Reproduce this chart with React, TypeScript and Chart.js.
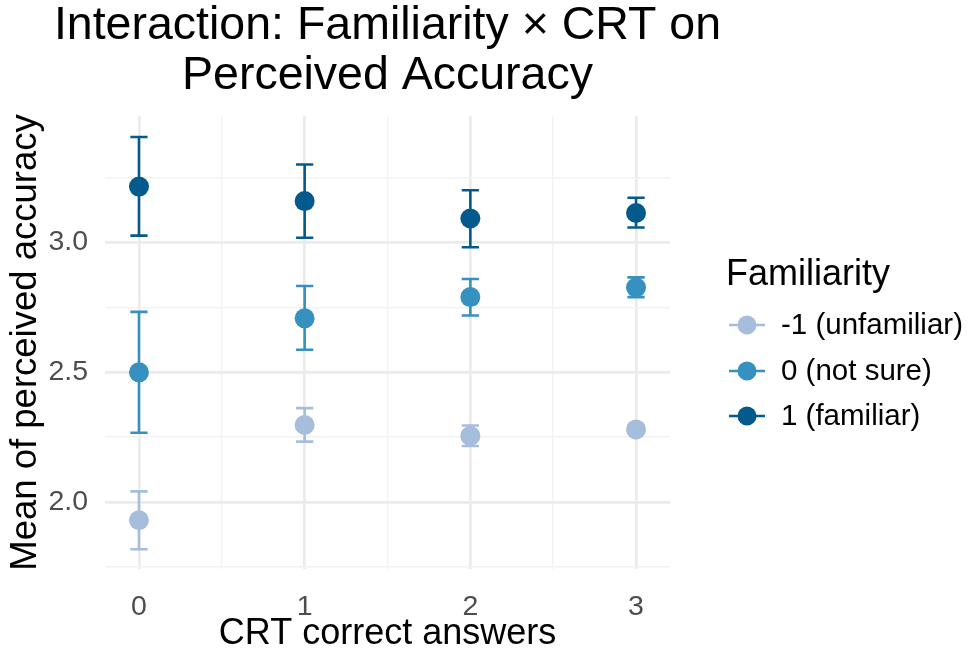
import { useEffect, useRef } from "react";
import { Chart, registerables } from "chart.js";

Chart.register(...registerables);

// ---- data ----
const crtAnswers = [0, 1, 2, 3];
const xTickValues = [0, 1, 2, 3];
const yTickValues = [2.0, 2.5, 3.0];

const seriesNames = ["-1 (unfamiliar)", "0 (not sure)", "1 (familiar)"];
const seriesColors = ["#a6bddb", "#3690c0", "#045a8d"];

const unfamiliarMean = [1.93, 2.297, 2.255, 2.28];
const unfamiliarLow = [1.818, 2.233, 2.216, 2.266];
const unfamiliarHigh = [2.041, 2.362, 2.295, 2.294];

const notSureMean = [2.5, 2.708, 2.79, 2.827];
const notSureLow = [2.267, 2.587, 2.719, 2.79];
const notSureHigh = [2.733, 2.833, 2.86, 2.866];

const familiarMean = [3.216, 3.16, 3.093, 3.114];
const familiarLow = [3.027, 3.019, 2.982, 3.058];
const familiarHigh = [3.407, 3.301, 3.202, 3.173];

const titleLines = ["Interaction: Familiarity \u00d7 CRT on", "Perceived Accuracy"];
const xTitle = "CRT correct answers";
const yTitle = "Mean of perceived accuracy";
const legendTitle = "Familiarity";

const means = [unfamiliarMean, notSureMean, familiarMean];
const lows = [unfamiliarLow, notSureLow, familiarLow];
const highs = [unfamiliarHigh, notSureHigh, familiarHigh];

const FONT = '"Liberation Sans", Arial, Helvetica, sans-serif';
const CAP_HALF = 0.052;

const isMajor = (v: number, step: number) =>
  Math.abs(v / step - Math.round(v / step)) < 1e-6;

const errorBarPlugin = {
  id: "errorBars",
  beforeDatasetsDraw(chart: any) {
    const { ctx } = chart;
    const xs = chart.scales.x;
    const ys = chart.scales.y;
    ctx.save();
    ctx.lineWidth = 2.6;
    ctx.lineCap = "butt";
    means.forEach((_m, i) => {
      ctx.strokeStyle = seriesColors[i];
      crtAnswers.forEach((c, j) => {
        const px = xs.getPixelForValue(c);
        const pl = xs.getPixelForValue(c - CAP_HALF);
        const pr = xs.getPixelForValue(c + CAP_HALF);
        const yl = ys.getPixelForValue(lows[i][j]);
        const yh = ys.getPixelForValue(highs[i][j]);
        ctx.beginPath();
        ctx.moveTo(px, yl);
        ctx.lineTo(px, yh);
        ctx.moveTo(pl, yl);
        ctx.lineTo(pr, yl);
        ctx.moveTo(pl, yh);
        ctx.lineTo(pr, yh);
        ctx.stroke();
      });
    });
    ctx.restore();
  },
};

const decorPlugin = {
  id: "decor",
  afterDraw(chart: any) {
    const { ctx, chartArea } = chart;
    ctx.save();
    // title
    const cx = (chartArea.left + chartArea.right) / 2;
    ctx.fillStyle = "#000000";
    ctx.font = `46.5px ${FONT}`;
    ctx.textAlign = "center";
    ctx.textBaseline = "alphabetic";
    ctx.fillText(titleLines[0], cx, 39);
    ctx.fillText(titleLines[1], cx, 89);

    // legend
    ctx.textAlign = "left";
    ctx.font = `36px ${FONT}`;
    ctx.fillText(legendTitle, 726, 285);
    const rowY = [325, 371, 416];
    ctx.font = `29.5px ${FONT}`;
    ctx.textBaseline = "middle";
    seriesNames.forEach((name, i) => {
      const y = rowY[i];
      ctx.strokeStyle = seriesColors[i];
      ctx.lineWidth = 2.6;
      ctx.beginPath();
      ctx.moveTo(729, y);
      ctx.lineTo(765, y);
      ctx.stroke();
      ctx.fillStyle = seriesColors[i];
      ctx.beginPath();
      ctx.arc(747, y, 9.5, 0, Math.PI * 2);
      ctx.fill();
      ctx.fillStyle = "#000000";
      ctx.fillText(name, 781, y + 1);
    });
    ctx.restore();
  },
};

export default function App() {
  const ref = useRef<HTMLCanvasElement | null>(null);

  useEffect(() => {
    document.body.style.margin = "0";
    const canvas = ref.current;
    if (!canvas) return;
    Chart.defaults.font.family = FONT;

    const datasets = means.map((m, i) => ({
      label: seriesNames[i],
      data: crtAnswers.map((c, j) => ({ x: c, y: m[j] })),
      backgroundColor: seriesColors[i],
      borderColor: seriesColors[i],
      borderWidth: 0,
      pointRadius: 10,
      pointHoverRadius: 10,
      showLine: false,
    }));

    const chart = new Chart(canvas, {
      type: "scatter",
      data: { datasets },
      plugins: [errorBarPlugin, decorPlugin],
      options: {
        animation: false,
        responsive: false,
        devicePixelRatio: 1,
        layout: { padding: { top: 116, right: 298, left: 0, bottom: 0 } },
        plugins: {
          legend: { display: false },
          title: { display: false },
          tooltip: { enabled: false },
        },
        scales: {
          x: {
            type: "linear",
            min: -0.205,
            max: 3.205,
            afterFit: (s: any) => {
              s.height = 85;
            },
            border: { display: false },
            grid: {
              drawTicks: false,
              color: (c: any) =>
                c.tick && isMajor(c.tick.value, 1) ? "#ebebeb" : "#f2f2f2",
              lineWidth: (c: any) =>
                c.tick && isMajor(c.tick.value, 1) ? 2.7 : 1.4,
            },
            ticks: {
              stepSize: 0.5,
              includeBounds: false,
              autoSkip: false,
              maxRotation: 0,
              padding: 21,
              color: "#4d4d4d",
              font: { size: 28.5 },
              callback: (v: any) => {
                const n = Number(v);
                return xTickValues.some((t) => Math.abs(t - n) < 1e-6)
                  ? String(Math.round(n))
                  : "";
              },
            },
            title: {
              display: true,
              text: xTitle,
              color: "#000000",
              font: { size: 36, lineHeight: 1 },
              padding: { top: 0, bottom: 2 },
            },
          },
          y: {
            type: "linear",
            min: 1.742,
            max: 3.488,
            afterFit: (s: any) => {
              s.width = 105;
            },
            border: { display: false },
            grid: {
              drawTicks: false,
              color: (c: any) =>
                c.tick && isMajor(c.tick.value, 0.5) ? "#ebebeb" : "#f2f2f2",
              lineWidth: (c: any) =>
                c.tick && isMajor(c.tick.value, 0.5) ? 2.7 : 1.4,
            },
            ticks: {
              stepSize: 0.25,
              includeBounds: false,
              autoSkip: false,
              padding: 17,
              color: "#4d4d4d",
              font: { size: 28.5 },
              callback: (v: any) => {
                const n = Number(v);
                return yTickValues.some((t) => Math.abs(t - n) < 1e-6)
                  ? n.toFixed(1)
                  : "";
              },
            },
            title: {
              display: true,
              text: yTitle,
              color: "#000000",
              font: { size: 36.5, lineHeight: 1 },
              padding: { top: 8, bottom: 0 },
            },
          },
        },
      },
    });
    return () => chart.destroy();
  }, []);

  return (
    <div style={{ width: 968, height: 654 }}>
      <canvas ref={ref} width={968} height={654} style={{ display: "block" }} />
    </div>
  );
}
